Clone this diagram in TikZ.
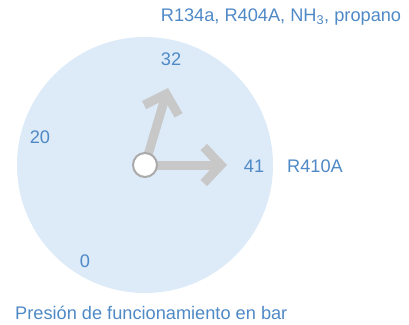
\documentclass[tikz,border=0pt]{standalone}
\usepackage{fontspec}
\setmainfont{Liberation Sans}
\usetikzlibrary{arrows.meta}

\definecolor{dialblue}{RGB}{221,235,248}
\definecolor{labelblue}{RGB}{79,137,198}
\definecolor{handgray}{RGB}{200,200,200}
\definecolor{hubgray}{RGB}{170,170,170}

\begin{document}
\begin{tikzpicture}[x=1pt, y=-1pt,
  lbl/.style={text=labelblue, font=\fontsize{18.2}{21}\selectfont, inner sep=0pt},
  hand/.style={draw=handgray, line width=9pt,
    -{Straight Barb[length=17pt, width=36pt, line cap=butt]}}]

\useasboundingbox (0,0) rectangle (409,324);

\fill[dialblue] (145,165) circle (128);

\coordinate (t41) at (227,165);
\coordinate (t32) at (168,88);

\node[circle, minimum size=25pt, inner sep=0pt] (hub) at (145,165) {};

\draw[hand] (hub.center) -- (t41);
\draw[hand] (hub.center) -- (t32);

\node[circle, fill=white, draw=hubgray, line width=2pt, minimum size=24pt, inner sep=0pt] at (hub) {};

\node[lbl] (n32) at (171,59) {32};
\node[lbl] (n20) at (40,137) {20};
\node[lbl] (n0) at (85,261) {0};
\node[lbl] (n41) at (254,166) {41};
\node[lbl] (r410) at (315,166) {R410A};
\node[lbl] (r134) at (281,17) {R134a, R404A, NH\textsubscript{3}, propano};
\node[lbl, anchor=west] (title) at (15,313) {Presión de funcionamiento en bar};

\end{tikzpicture}
\end{document}
